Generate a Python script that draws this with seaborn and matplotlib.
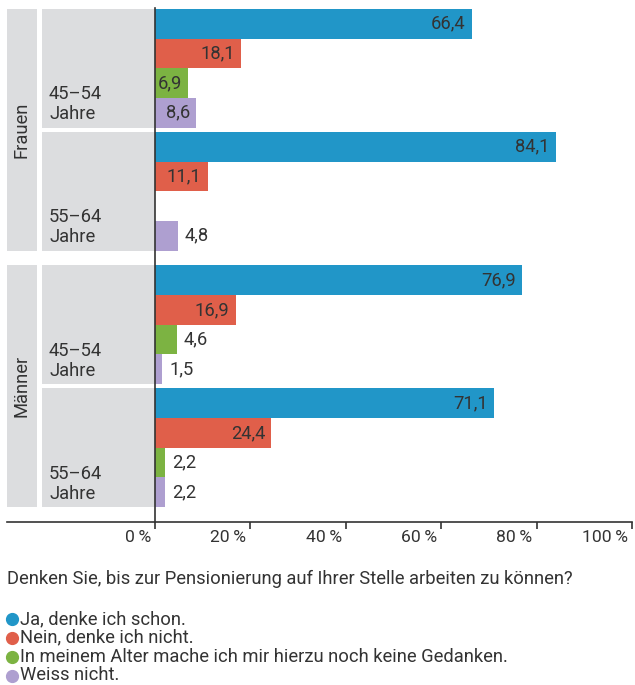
import numpy as np
import pandas as pd
import matplotlib
matplotlib.use("Agg")
import matplotlib.pyplot as plt
import matplotlib.transforms as mtrans
from matplotlib.patches import Rectangle
from matplotlib.lines import Line2D
import seaborn as sns

# ---------------- data ----------------
sexes = ["Frauen", "Frauen", "Männer", "Männer"]
ages = ["45–54\nJahre", "55–64\nJahre", "45–54\nJahre", "55–64\nJahre"]
answers = ["Ja, denke ich schon.",
           "Nein, denke ich nicht.",
           "In meinem Alter mache ich mir hierzu noch keine Gedanken.",
           "Weiss nicht."]
ja = [66.4, 84.1, 76.9, 71.1]
nein = [18.1, 11.1, 16.9, 24.4]
keine_gedanken = [6.9, np.nan, 4.6, 2.2]
weiss_nicht = [8.6, 4.8, 1.5, 2.2]
colors = ["#2196c8", "#e05f4a", "#7cb342", "#ae9fd0"]
xtick_values = [0, 20, 40, 60, 80, 100]
question = "Denken Sie, bis zur Pensionierung auf Ihrer Stelle arbeiten zu können?"

# ---------------- layout ----------------
W, H, DPI = 635, 685, 100
SMALL_GAP, BIG_GAP = 0.15, 0.5
TEXT = "#333333"
PANEL = "#dcdddf"
FONT = ["Roboto", "DejaVu Sans"]
FS = 13.2
FS_TICK = 12.6

sns.set_theme(style="white")
plt.rcParams["font.family"] = FONT
plt.rcParams["text.color"] = TEXT

pos = []
p = 2.0
for i in range(len(sexes)):
    if i > 0:
        p += 4 + (BIG_GAP if sexes[i] != sexes[i - 1] else SMALL_GAP)
    pos.append(p)

series = [ja, nein, keine_gedanken, weiss_nicht]
rows = []
for i in range(len(pos)):
    for j, s in enumerate(series):
        if not np.isnan(s[i]):
            rows.append({"pos": pos[i], "value": s[i], "answer": answers[j]})
df = pd.DataFrame(rows)

fig = plt.figure(figsize=(W / DPI, H / DPI), dpi=DPI)
ax_left_px, ax_right_px, zero_px, hundred_px = 7, 632, 155, 632
top_px, bottom_px = 8, 522
ax = fig.add_axes([ax_left_px / W, 1 - bottom_px / H,
                   (ax_right_px - ax_left_px) / W, (bottom_px - top_px) / H])

sns.barplot(data=df, x="value", y="pos", hue="answer", hue_order=answers,
            palette=colors, orient="y", native_scale=True,
            width=4 / (4 + SMALL_GAP), dodge=True, errorbar=None,
            legend=False, ax=ax, linewidth=0, saturation=1, zorder=3)

px_per_unit = (hundred_px - zero_px) / 100.0
def xdata(px):
    return (px - zero_px) / px_per_unit

bar_h_px = (507 - 9) / (pos[-1] + 2)
ax.set_xlim(xdata(ax_left_px), 100)
ax.set_ylim((bottom_px - 9) / bar_h_px, (top_px - 9) / bar_h_px)

# value labels
for bar in list(ax.patches):
    w = bar.get_width()
    if not np.isfinite(w) or w <= 0:
        continue
    yc = bar.get_y() + bar.get_height() / 2
    txt = f"{w:.1f}".replace(".", ",")
    if w >= 6:
        ax.annotate(txt, (w, yc), xytext=(-4.5, 0), textcoords="offset points",
                    ha="right", va="center", fontsize=FS, color=TEXT, zorder=5)
    else:
        ax.annotate(txt, (w, yc), xytext=(5, 0), textcoords="offset points",
                    ha="left", va="center", fontsize=FS, color=TEXT, zorder=5)

# grey panels and labels
for i in range(len(pos)):
    ax.add_patch(Rectangle((xdata(42), pos[i] - 2), -xdata(42), 4,
                           facecolor=PANEL, edgecolor="none", zorder=0))
    ax.text(xdata(49), pos[i] + 2 - 0.14, ages[i], ha="left", va="bottom",
            fontsize=FS, linespacing=1.15, color=TEXT, zorder=2)
for sex in dict.fromkeys(sexes):
    idx = [i for i, s in enumerate(sexes) if s == sex]
    y0 = pos[idx[0]] - 2
    y1 = pos[idx[-1]] + 2
    ax.add_patch(Rectangle((xdata(7), y0), xdata(37) - xdata(7), y1 - y0,
                           facecolor=PANEL, edgecolor="none", zorder=0))
    ax.text(xdata(22), (y0 + y1) / 2, sex, rotation=90, ha="center",
            va="center", fontsize=FS, color=TEXT, zorder=2)

# axes styling
for s in ["top", "right"]:
    ax.spines[s].set_visible(False)
ax.spines["left"].set_position(("data", 0))
for s in ["left", "bottom"]:
    ax.spines[s].set_color(TEXT)
    ax.spines[s].set_linewidth(1.2)
    ax.spines[s].set_zorder(4)
ax.set_yticks([])
ax.set_ylabel("")
ax.set_xlabel("")
ax.set_xticks(xtick_values)
ax.set_xticklabels([f"{v}\u2009%" for v in xtick_values])
ax.tick_params(axis="x", direction="out", length=5, width=1.2, color=TEXT,
               pad=1, labelsize=FS_TICK, labelcolor=TEXT, bottom=True)
shift = mtrans.ScaledTranslation(-4 / DPI, 0, fig.dpi_scale_trans)
for lab in ax.get_xticklabels():
    lab.set_ha("right")
    lab.set_transform(lab.get_transform() + shift)
ax.set_facecolor("white")

# question and legend
fig.text(7 / W, 1 - 579 / H, question, ha="left", va="center", fontsize=FS, color=TEXT)
legend_y = [619, 637.5, 656.5, 675.5]
for j, lab in enumerate(answers):
    y = 1 - legend_y[j] / H
    fig.add_artist(Line2D([12 / W], [y], marker="o", markersize=8.5,
                          color=colors[j], linestyle="none",
                          transform=fig.transFigure))
    fig.text(20 / W, y, lab, ha="left", va="center", fontsize=FS, color=TEXT)

fig.savefig("out.png", dpi=DPI, facecolor="white")
